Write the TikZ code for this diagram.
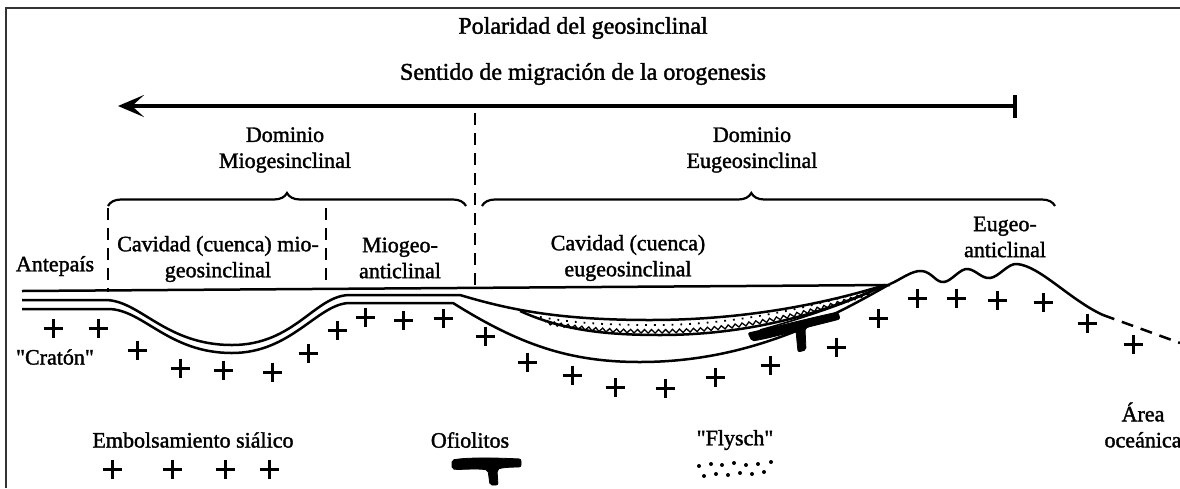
\documentclass[tikz,border=0pt]{standalone}
\usepackage{fontspec}
\setmainfont{Liberation Serif}[FakeBold=1.6]
\usetikzlibrary{arrows.meta,decorations.pathreplacing,decorations.pathmorphing}
\begin{document}
\begin{tikzpicture}[x=1pt,y=-1pt,
  lbl/.style={inner sep=0pt,font=\fontsize{22}{26}\selectfont,align=center},
  ttl/.style={inner sep=0pt,font=\fontsize{24}{28}\selectfont},
  frameline/.style={line width=2pt,draw=black!80},
  layer/.style={line width=2.5pt},
  sepdash/.style={line width=2.8pt,dash pattern=on 12pt off 8pt},
  crossline/.style={line width=3pt},
  ophio/.style={fill=black,draw=black,line width=0.8pt,rounded corners=2pt},
  sialcross/.pic={\draw[crossline] (-9.5,0) -- (9.5,0) (0,-9.5) -- (0,9.5);}
]
\useasboundingbox (0,0) rectangle (1180,488);
\draw[frameline] (6,488) -- (6,8) -- (1180,8);

% titles and migration arrow
\node[ttl] (pol) at (583,28) {Polaridad del geosinclinal};
\node[ttl] (sen) at (583,74) {Sentido de migración de la orogenesis};
\coordinate (arrE) at (1015,106);
\coordinate (arrW) at (118,106);
\draw[line width=3.4pt,-{Stealth[length=26pt,width=22pt,inset=12pt]}] (arrE) -- (arrW);
\draw[line width=3.4pt] (1015,95) -- (1015,118);

% domain labels and braces
\node[lbl] (dmio) at (285,150) {Dominio\\Miogesinclinal};
\node[lbl] (deu) at (752,150) {Dominio\\Eugeosinclinal};
\draw[line width=2.2pt,decorate,decoration={brace,amplitude=13pt,aspect=0.5}] (108,206) -- (466,206);
\draw[line width=2.2pt,decorate,decoration={brace,amplitude=13pt,aspect=0.47}] (482,206) -- (1055,206);

% dashed separations
\draw[sepdash] (475,113) -- (475,290);
\draw[sepdash] (108,208) -- (108,292);
\draw[sepdash] (326,208) -- (326,290);

% zone labels
\node[lbl] (cavm) at (218,259) {Cavidad (cuenca) mio-\\geosinclinal};
\node[lbl] (miog) at (400,258) {Miogeo-\\anticlinal};
\node[lbl] (ante) at (55,266) {Antepaís};
\node[lbl] (cave) at (628,258) {Cavidad (cuenca)\\eugeosinclinal};
\node[lbl] (eug) at (1005,237) {Eugeo-\\anticlinal};
\node[lbl] (crat) at (55,357) {\textquotedbl Cratón\textquotedbl};
\node[lbl] (area) at (1143,425) {Área\\oceánica};

% section: surface and sedimentary layers
\draw[layer] (22,291) -- (890,285);
\draw[layer] (22,300) -- (105,300) .. controls (140,300) and (165,345) .. (232,345)
  .. controls (295,345) and (315,295) .. (350,295) -- (460,295)
  .. controls (510,310) and (560,320) .. (650,320)
  .. controls (750,320) and (830,302) .. (885,285);
\draw[layer] (22,309) -- (108,309) .. controls (143,309) and (168,353) .. (232,353)
  .. controls (292,353) and (318,303) .. (350,303) -- (453,303)
  .. controls (520,345) and (570,362) .. (640,362)
  .. controls (750,362) and (830,318) .. (890,284);

% flysch band
\draw[layer] (520,311) .. controls (560,329) and (600,335) .. (660,335)
  .. controls (760,335) and (835,308) .. (885,285);
\draw[line width=1.3pt,decorate,decoration={snake,amplitude=1.8pt,segment length=7pt}]
  (545,322) .. controls (585,330) and (615,331) .. (655,331)
  .. controls (745,331) and (825,308) .. (872,291);
\draw[line width=1.8pt,dash pattern=on 1.8pt off 7pt]
  (540,317) .. controls (580,324) and (615,325) .. (655,325)
  .. controls (745,325) and (825,303) .. (875,288);
\draw[line width=1.6pt] (885,285) .. controls (850,303) and (800,319) .. (760,330);

% ophiolite in the section
\path[ophio] (748,333) .. controls (775,327) and (810,318) .. (838,312)
  -- (840,319) .. controls (825,323) and (812,326) .. (805,328)
  -- (806,350) -- (798,352) -- (796,331)
  .. controls (780,335) and (765,339) .. (752,341) -- cycle;

% eugeoanticlinal ridge and oceanic slope
\draw[layer] (890,284) .. controls (900,280) and (912,270) .. (922,271)
  .. controls (932,272) and (936,283) .. (944,282)
  .. controls (952,281) and (960,268) .. (968,269)
  .. controls (976,270) and (982,279) .. (990,278)
  .. controls (999,277) and (1008,263) .. (1017,264)
  .. controls (1040,266) and (1070,300) .. (1103,315);
\draw[layer,dash pattern=on 12pt off 8pt] (1103,315) -- (1180,343);

% sialic crosses
\foreach \p in {(53,328),(98,328),(137,350),(180,368),(223,370),(272,372),(308,353),
  (337,330),(365,317),(403,320),(443,318),(485,336),(527,362),(572,375),(615,387),
  (665,388),(715,377),(770,365),(836,347),(878,318),(917,298),(956,298),(997,300),
  (1043,302),(1087,323),(1133,344)}
  \pic at \p {sialcross};

% legend
\node[lbl] (lgs) at (193,440) {Embolsamiento siálico};
\foreach \x in {112,172,225,269} \pic at (\x,469) {sialcross};
\node[lbl] (lgo) at (470,440) {Ofiolitos};
\path[ophio] (452,460) .. controls (470,457) and (500,458) .. (521,459) -- (521,467)
  .. controls (508,467) and (500,468) .. (497,470) -- (498,485) -- (490,485)
  -- (488,470) .. controls (475,468) and (462,470) .. (452,469) -- cycle;
\node[lbl] (lgf) at (735,440) {\textquotedbl Flysch\textquotedbl};
\foreach \x/\y in {699/466,711/464,722/465,734/463,746/465,758/464,771/462}
  \fill (\x,\y) circle (2);
\foreach \x/\y in {704/476,716/474,728/475,740/473,752/474,764/472}
  \fill (\x,\y) circle (2);
\end{tikzpicture}
\end{document}
